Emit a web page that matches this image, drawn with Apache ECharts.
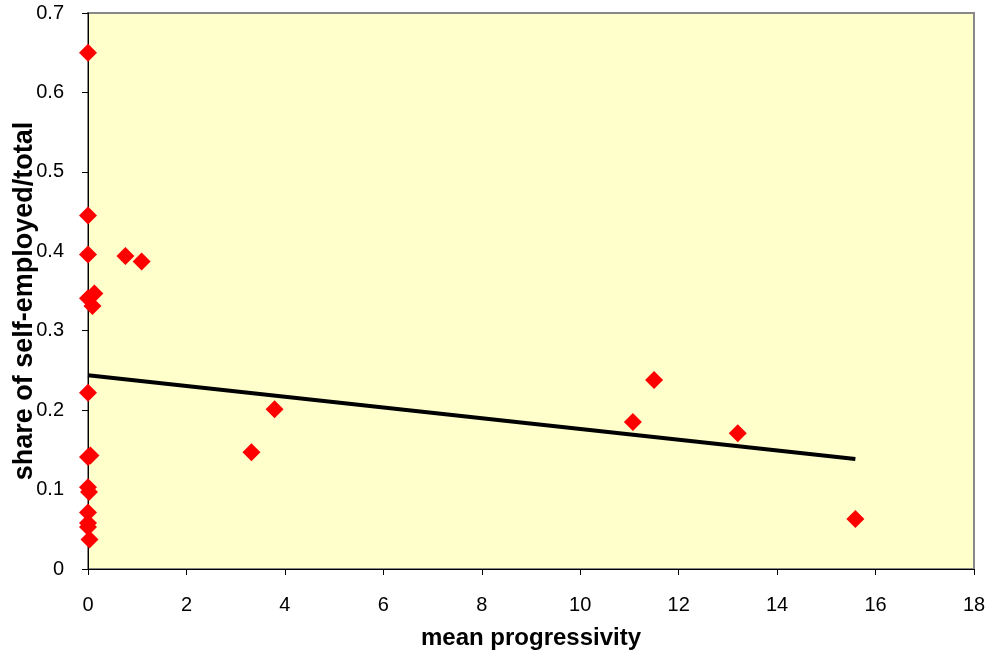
<!DOCTYPE html>
<html>
<head>
<meta charset="utf-8">
<script src="https://cdn.jsdelivr.net/npm/echarts@6/dist/echarts.min.js"></script>
<style>
  html, body { margin: 0; padding: 0; background: #fff; }
  #chart { width: 992px; height: 657px; }
</style>
</head>
<body>
<div id="chart"></div>
<script>
// progressivity vs share of self-employed
var progX = [0, 0, 0, 0.76, 1.09, 0, 0.13, 0.09, 0, 0, 0.05, 0, 0.02, 0, 0, 0, 0.03,
  3.32, 3.79, 11.07, 11.5, 13.2, 15.59];
var shareY = [0.650, 0.445, 0.396, 0.394, 0.387, 0.341, 0.347, 0.331, 0.222, 0.141, 0.143,
  0.103, 0.097, 0.071, 0.058, 0.053, 0.037,
  0.147, 0.201, 0.185, 0.238, 0.171, 0.063];
// fitted trend line ends
var trendX = [0, 15.59];
var trendY = [0.244, 0.1385];

var xTicks = [0, 2, 4, 6, 8, 10, 12, 14, 16, 18];
var yTicks = [0, 0.1, 0.2, 0.3, 0.4, 0.5, 0.6, 0.7];

var chart = echarts.init(document.getElementById('chart'));

var points = progX.map(function (x, i) { return [x, shareY[i]]; });
var trend = trendX.map(function (x, i) { return [x, trendY[i]]; });

var font = '"Liberation Sans", Arial, sans-serif';

var option = {
  animation: false,
  grid: {
    left: 88, top: 13, right: 18, bottom: 88,
    outerBoundsMode: 'none',
    containLabel: false,
    show: true,
    backgroundColor: '#FFFFCC',
    borderColor: '#888888',
    borderWidth: 2
  },
  xAxis: {
    type: 'value',
    min: xTicks[0],
    max: xTicks[xTicks.length - 1],
    interval: 2,
    name: 'mean progressivity',
    nameLocation: 'middle',
    nameGap: 57,
    nameMoveOverlap: false,
    nameTextStyle: { fontFamily: font, fontSize: 24, fontWeight: 'bold', color: '#000' },
    axisLine: { show: true, onZero: false, lineStyle: { color: '#000', width: 1 } },
    axisTick: { show: true, length: 6, lineStyle: { color: '#000' } },
    axisLabel: { fontFamily: font, fontSize: 20, color: '#000', margin: 26 },
    splitLine: { show: false }
  },
  yAxis: {
    type: 'value',
    min: yTicks[0],
    max: yTicks[yTicks.length - 1],
    interval: 0.1,
    name: 'share of self-employed/total',
    nameLocation: 'middle',
    nameGap: 50,
    nameMoveOverlap: false,
    nameTextStyle: {
      fontFamily: font, fontSize: 27, fontWeight: 'bold', color: '#000',
      padding: [0, 20, 0, 0]
    },
    axisLine: { show: true, onZero: false, lineStyle: { color: '#000', width: 1 } },
    axisTick: { show: true, length: 6, lineStyle: { color: '#000' } },
    axisLabel: {
      fontFamily: font, fontSize: 20, color: '#000', margin: 24,
      formatter: function (v) { return v === 0 ? '0' : v.toFixed(1); }
    },
    splitLine: { show: false }
  },
  series: [
    {
      type: 'line',
      data: trend,
      symbol: 'none',
      lineStyle: { color: '#000', width: 4 },
      z: 2
    },
    {
      type: 'scatter',
      data: points,
      symbol: 'diamond',
      symbolSize: 18,
      itemStyle: { color: '#FF0000', opacity: 1 },
      z: 3
    }
  ]
};

chart.setOption(option);
</script>
</body>
</html>
